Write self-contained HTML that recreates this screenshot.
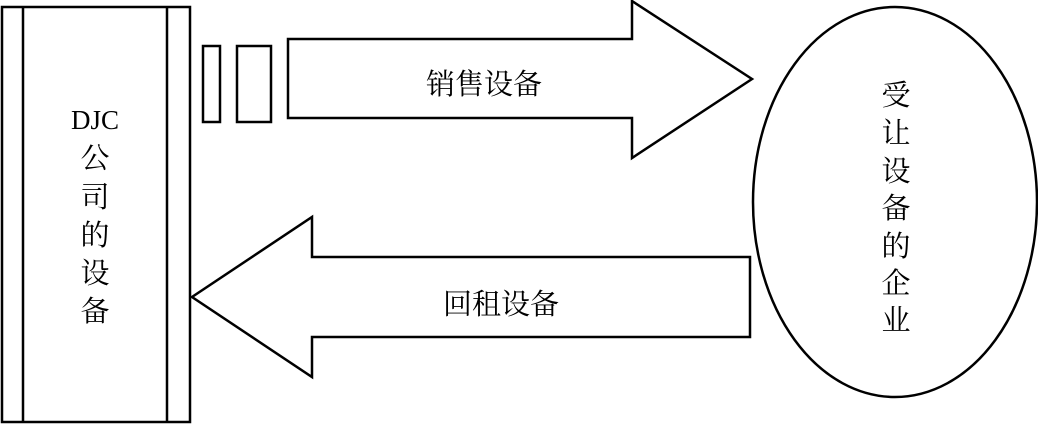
<!DOCTYPE html>
<html><head><meta charset="utf-8"><style>
html,body{margin:0;padding:0;background:#fff;width:1038px;height:434px;overflow:hidden}
text{font-family:"Liberation Serif","Noto Serif CJK SC",serif;fill:#000}
</style></head><body>
<svg width="1038" height="434" viewBox="0 0 1038 434" xmlns="http://www.w3.org/2000/svg">
<g fill="none" stroke="#000" stroke-width="2.5">
<rect x="2" y="7" width="188" height="415"/>
<line x1="23" y1="7" x2="23" y2="422"/>
<line x1="167" y1="7" x2="167" y2="422"/>
<rect x="203" y="46" width="17" height="76"/>
<rect x="237" y="46" width="34" height="76"/>
<polygon points="288,39 632,39 632,1 752,79 632,158 632,118 288,118"/>
<polygon points="750,257 312,257 312,217 192,297 312,377 312,337 750,337"/>
<ellipse cx="895" cy="202" rx="142" ry="195"/>
</g>
<g font-size="29" text-anchor="middle">
<text x="484" y="94">销售设备</text>
<text x="501" y="314">回租设备</text>
<text x="95" y="129" font-size="27">DJC</text>
<text x="95" y="168">公</text>
<text x="95" y="207">司</text>
<text x="95" y="245">的</text>
<text x="95" y="283">设</text>
<text x="95" y="321">备</text>
<text x="896" y="105">受</text>
<text x="896" y="143">让</text>
<text x="896" y="181">设</text>
<text x="896" y="218">备</text>
<text x="896" y="256">的</text>
<text x="896" y="293">企</text>
<text x="896" y="330">业</text>
</g>
</svg>
</body></html>
